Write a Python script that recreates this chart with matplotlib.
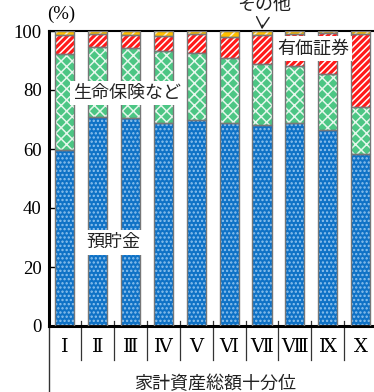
import matplotlib
matplotlib.use("Agg")
import matplotlib.pyplot as plt
import numpy as np

categories = ["Ⅰ", "Ⅱ", "Ⅲ", "Ⅳ", "Ⅴ", "Ⅵ", "Ⅶ", "Ⅷ", "Ⅸ", "Ⅹ"]
deposits = [59.6, 70.7, 70.6, 68.7, 69.7, 68.7, 68.0, 68.7, 66.3, 58.2]
life_ins = [32.6, 24.0, 23.8, 24.6, 22.7, 22.0, 20.9, 19.3, 19.0, 16.2]
securities = [6.4, 4.2, 4.2, 5.0, 6.7, 7.2, 9.7, 11.0, 14.0, 24.7]
others = [100 - d - l - s for d, l, s in zip(deposits, life_ins, securities)]

JP = ["Noto Sans CJK JP", "DejaVu Sans"]
SERIF = ["Liberation Serif", "DejaVu Serif", "Noto Sans CJK JP"]
plt.rcParams["hatch.linewidth"] = 1.1

fig = plt.figure(figsize=(3.74, 3.92), dpi=100)
W, H = 374, 392
x0, x1, y0, y1 = 48.5, 377, 326, 31
ax = fig.add_axes([x0 / W, 1 - y0 / H, (x1 - x0) / W, (y0 - y1) / H])

x = np.arange(len(categories))
bw = 0.58
series = [
    (deposits, "#0f72c6", "#8fc3ee", "...."),
    (life_ins, "#4cc684", "#e6f7ec", "xxx"),
    (securities, "#ff1a1a", "white", "/////"),
    (others, "#ffc000", "#fff4d0", "///"),
]
bottom = np.zeros(len(categories))
for vals, col, hcol, hatch in series:
    v = np.array(vals)
    ax.bar(x, v, bw, bottom=bottom, color=col, hatch=hatch, edgecolor=hcol,
           linewidth=0, zorder=2)
    ax.bar(x, v, bw, bottom=bottom, fill=False, edgecolor="#777777",
           linewidth=1.0, zorder=3)
    bottom += v

ax.set_xlim(-0.5, len(categories) - 0.5)
ax.set_ylim(0, 100)
ax.set_yticks([0, 20, 40, 60, 80, 100])
ax.set_yticklabels(["0", "20", "40", "60", "80", "100"], family=SERIF, fontsize=13.5)
ax.tick_params(axis="y", direction="in", length=4, width=1, pad=5)
ax.set_xticks([])
for s in ["left", "bottom"]:
    ax.spines[s].set_linewidth(2.2)
    ax.spines[s].set_color("black")
ax.spines["top"].set_linewidth(1.5)
ax.spines["right"].set_visible(False)

tr = ax.get_xaxis_transform()
ppx = 1.0 / (y0 - y1)
for k in range(1, len(categories)):
    xs = k - 0.5
    ax.plot([xs, xs], [0, -34 * ppx], transform=tr, color="#333333", lw=0.9, clip_on=False)
    ax.plot([xs, xs], [0, 5 * ppx], transform=tr, color="#333333", lw=0.9, clip_on=False, zorder=1)
ax.plot([-0.5, -0.5], [0, -70 * ppx], transform=tr, color="#333333", lw=1.0, clip_on=False)

for i, c in enumerate(categories):
    ax.text(i, -22 * ppx, c, transform=tr, ha="center", va="center",
            family=SERIF, fontsize=14)

ax.text((215 - x0) / (x1 - x0), -58 * ppx, "家計資産総額十分位", transform=ax.transAxes,
        ha="center", va="center", family=JP, fontsize=13, color="#222222")
ax.text((61 - x0) / (x1 - x0), 1 + 17 * ppx, "(%)", transform=ax.transAxes,
        ha="center", va="center", family=SERIF, fontsize=13.5)

box = dict(facecolor="white", edgecolor="none", pad=2.5)
ax.text(1.89, 79.0, "生命保険など", ha="center", va="center", family=JP,
        fontsize=13, bbox=box, zorder=5, color="#222222")
ax.text(7.55, 94.0, "有価証券", ha="center", va="center", family=JP,
        fontsize=13, bbox=box, zorder=5, color="#222222")
ax.text(1.46, 28.4, "預貯金", ha="center", va="center", family=JP,
        fontsize=13, bbox=box, zorder=5, color="#222222")
ax.annotate("その他", xy=(6.0, 100.6), xytext=(6.05, 108.8), ha="center", va="center",
            family=JP, fontsize=13, color="#222222", annotation_clip=False,
            arrowprops=dict(arrowstyle="->,head_width=0.35,head_length=0.6",
                            color="#222222", lw=1.0, shrinkA=6, shrinkB=0))

fig.savefig("out.png", dpi=100)
